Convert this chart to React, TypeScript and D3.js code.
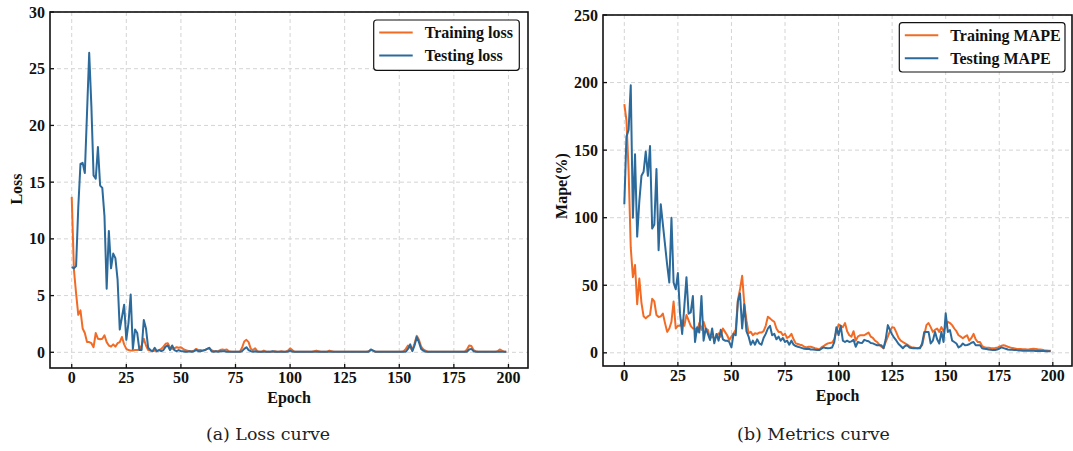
import React from "react";
import * as d3 from "d3";

// ---------- DATA ----------
const epochTicks = [0, 25, 50, 75, 100, 125, 150, 175, 200];
const lossTicks = [0, 5, 10, 15, 20, 25, 30];
const mapeTicks = [0, 50, 100, 150, 200, 250];

const trainLoss = [
  13.7, 7.3, 5.2, 3.3, 3.7, 2.1, 1.7, 0.9, 0.9, 0.8,
  0.45, 1.7, 1.2, 1.15, 1.2, 1.5, 0.9, 0.6, 0.5, 0.7,
  0.5, 0.8, 0.9, 1.35, 0.7, 0.3, 0.2, 0.15, 0.15, 0.2,
  0.2, 0.25, 0.6, 1.2, 0.6, 0.2, 0.15, 0.1, 0.15, 0.1,
  0.2, 0.3, 0.5, 0.75, 0.8, 0.4, 0.3, 0.35, 0.45, 0.4,
  0.45, 0.3, 0.2, 0.15, 0.1, 0.1, 0.15, 0.3, 0.2, 0.2,
  0.15, 0.2, 0.3, 0.35, 0.2, 0.1, 0.1, 0.1, 0.2, 0.25,
  0.2, 0.25, 0.1, 0.05, 0.05, 0.05, 0.05, 0.05, 0.4, 0.95,
  1.1, 0.9, 0.3, 0.2, 0.35, 0.1, 0.05, 0.05, 0.15, 0.05,
  0.05, 0.05, 0.05, 0.1, 0.05, 0.05, 0.1, 0.05, 0.05, 0.15,
  0.35, 0.2, 0.05, 0.05, 0.05, 0.05, 0.05, 0.05, 0.05, 0.05,
  0.05, 0.1, 0.15, 0.1, 0.05, 0.05, 0.05, 0.05, 0.15, 0.1,
  0.05, 0.05, 0.05, 0.05, 0.05, 0.05, 0.05, 0.05, 0.05, 0.05,
  0.05, 0.05, 0.05, 0.05, 0.05, 0.05, 0.1, 0.2, 0.15, 0.05,
  0.05, 0.05, 0.05, 0.05, 0.05, 0.05, 0.05, 0.05, 0.05, 0.05,
  0.05, 0.05, 0.1, 0.3, 0.6, 0.4, 0.2, 0.8, 1.45, 1.1,
  0.5, 0.25, 0.15, 0.05, 0.05, 0.05, 0.05, 0.05, 0.05, 0.05,
  0.05, 0.05, 0.05, 0.05, 0.05, 0.05, 0.05, 0.05, 0.05, 0.05,
  0.05, 0.25, 0.6, 0.55, 0.2, 0.1, 0.05, 0.05, 0.05, 0.05,
  0.05, 0.05, 0.05, 0.05, 0.05, 0.1, 0.25, 0.15, 0.05, 0.05,
];

const testLoss = [
  7.5, 7.4, 7.6, 12.8, 16.6, 16.7, 15.8, 21.1, 26.4, 21.7,
  15.6, 15.3, 18.1, 14.7, 14.5, 12.0, 5.6, 10.7, 7.4, 8.7,
  8.3, 6.4, 2.0, 3.1, 4.2, 1.1, 2.6, 5.1, 0.3, 2.0,
  1.7, 0.2, 0.2, 2.85, 2.1, 0.4, 0.2, 0.1, 0.4, 0.1,
  0.2, 0.1, 0.2, 0.5, 0.6, 0.2, 0.6, 0.2, 0.1, 0.2,
  0.1, 0.1, 0.05, 0.05, 0.1, 0.05, 0.1, 0.2, 0.1, 0.1,
  0.15, 0.2, 0.3, 0.4, 0.1, 0.05, 0.1, 0.05, 0.1, 0.1,
  0.1, 0.05, 0.05, 0.05, 0.05, 0.05, 0.05, 0.05, 0.1, 0.3,
  0.45, 0.2, 0.1, 0.05, 0.1, 0.05, 0.05, 0.05, 0.05, 0.05,
  0.05, 0.05, 0.1, 0.05, 0.05, 0.05, 0.05, 0.05, 0.05, 0.05,
  0.15, 0.05, 0.05, 0.05, 0.05, 0.05, 0.05, 0.05, 0.05, 0.05,
  0.05, 0.05, 0.05, 0.05, 0.05, 0.05, 0.05, 0.05, 0.05, 0.05,
  0.05, 0.05, 0.05, 0.05, 0.05, 0.05, 0.05, 0.05, 0.05, 0.05,
  0.05, 0.05, 0.05, 0.05, 0.05, 0.05, 0.05, 0.25, 0.15, 0.05,
  0.05, 0.05, 0.05, 0.05, 0.05, 0.05, 0.05, 0.05, 0.05, 0.05,
  0.05, 0.05, 0.05, 0.05, 0.3, 0.7, 0.1, 0.6, 1.35, 0.9,
  0.3, 0.15, 0.05, 0.05, 0.05, 0.05, 0.05, 0.05, 0.05, 0.05,
  0.05, 0.05, 0.05, 0.05, 0.05, 0.05, 0.05, 0.05, 0.05, 0.05,
  0.05, 0.05, 0.25, 0.3, 0.1, 0.05, 0.05, 0.05, 0.05, 0.05,
  0.05, 0.05, 0.05, 0.05, 0.05, 0.05, 0.05, 0.05, 0.05, 0.05,
];

const trainMape = [
  184, 172, 135, 78, 56, 65, 36, 55, 37, 27,
  25.5, 27, 28, 40, 38, 28, 26.5, 27, 29, 22,
  15.5, 18, 23, 38, 18, 20, 20, 24, 20, 28,
  24, 20, 18, 18, 15.5, 22, 17, 23, 18, 17,
  10.6, 12, 10.6, 12, 14.5, 12, 18, 15.5, 13, 9.5,
  12, 14.5, 17, 39, 47, 57, 36, 24, 14.5, 15.5,
  13, 14.5, 14, 15, 15, 16, 20, 26.7, 25.5, 24,
  23, 18, 15.5, 15.5, 13, 14, 11, 12, 14, 10,
  7, 6.5, 6, 5.6, 4.5, 4, 4.5, 4.5, 4, 3.4,
  3, 2.5, 4, 5, 6, 7, 7.3, 7.6, 10, 16,
  21, 20, 19, 22, 16, 13, 12, 16, 9, 12,
  13, 13, 13, 14, 15, 12, 11, 9, 8, 6,
  4.5, 3.4, 8, 12, 16, 19, 18.5, 15, 11, 9,
  8, 7, 6, 5, 4.2, 4, 3.6, 3.4, 4, 5.6,
  13, 20.5, 22, 19, 15.5, 17, 18, 15.5, 19, 16,
  19, 23, 22, 20.5, 18, 16, 13, 12, 10.8, 12,
  13, 9, 11, 14, 10, 8, 8, 5, 4.2, 3.8,
  3.7, 3.5, 3.4, 3.5, 3.7, 4.5, 5.2, 5.6, 5.2, 4.5,
  4, 3.5, 3.3, 3, 2.8, 2.8, 2.7, 2.6, 2.5, 2.6,
  2.8, 3, 2.8, 2.6, 2.5, 2.3, 2, 1.8, 1.6, 1.5,
];

const testMape = [
  110, 160, 165, 198, 100, 147, 86, 112, 131, 134,
  149, 131, 153, 92, 95, 136, 76, 110, 95, 80,
  65, 52, 100, 52, 47, 59, 29, 14, 34, 56,
  29, 30, 42, 8, 19, 15, 42, 9, 18, 14,
  9.5, 18, 7, 14, 9, 17, 10, 9, 9, 8,
  4, 14, 13, 38, 44, 18, 36, 16, 12, 6,
  9, 6, 10, 7, 6, 11, 14, 18, 20, 13,
  14, 10, 12, 9, 11, 8, 9, 6, 9, 6,
  5, 4.5, 4, 3.5, 3, 2.8, 3, 2.5, 2.5, 2.2,
  2, 2, 3, 4, 3.5, 3.4, 3.6, 4, 8, 19,
  13, 20, 9, 8, 9, 8, 8.5, 9.6, 4.5, 8,
  7.5, 7.3, 9.6, 9, 8.6, 7.3, 7, 6.3, 5.6, 5.6,
  5.6, 3.4, 10, 20.5, 16.8, 13.5, 11, 9, 6.5, 5,
  3.4, 5, 5.6, 4, 3.6, 3.4, 3.4, 3.4, 3.4, 6.9,
  15.5, 15.5, 15.5, 6.9, 9, 15.5, 10, 6.9, 15.5, 8,
  29.2, 15.5, 16.8, 9, 8, 6.9, 4, 5, 6.9, 5.6,
  5.8, 6.3, 7.5, 8, 5.6, 5.6, 5.6, 3.4, 3, 2.8,
  2.5, 2.3, 2, 2, 2.5, 3, 4, 3.5, 3, 2.5,
  2.3, 2.2, 2, 2, 1.8, 1.7, 1.6, 1.5, 1.5, 1.5,
  1.6, 1.5, 1.4, 1.5, 1.4, 1.3, 1.3, 1.2, 1.2, 1.2,
];

// ---------- STYLE ----------
const ORANGE = "#f26b25";
const BLUE = "#2c6a9b";
const SERIF = "'Liberation Serif', 'Times New Roman', serif";
const CAPTION_FONT = "'DejaVu Serif', serif";
const FS = 16;

type PanelProps = {
  left: number; right: number; top: number; bottom: number;
  xDomain: [number, number]; yDomain: [number, number];
  yTicks: number[]; train: number[]; test: number[];
  yLabel: string; yLabelY: number; yLabelX: number;
  legend: [string, string];
  legendBox: { x: number; y: number; w: number; h: number };
  caption: string; captionX: number;
};

function Panel(p: PanelProps) {
  const x = d3.scaleLinear().domain(p.xDomain).range([p.left, p.right]);
  const y = d3.scaleLinear().domain(p.yDomain).range([p.bottom, p.top]);
  const line = d3
    .line<number>()
    .x((_, i) => x(i))
    .y((d) => y(d));
  const lb = p.legendBox;
  const cx = (p.left + p.right) / 2;
  return (
    <g>
      {/* grid */}
      {epochTicks.map((t) => (
        <line key={"gx" + t} x1={x(t)} x2={x(t)} y1={p.top} y2={p.bottom}
          stroke="#d4d4d4" strokeWidth={1} strokeDasharray="4,3" />
      ))}
      {p.yTicks.map((t) => (
        <line key={"gy" + t} x1={p.left} x2={p.right} y1={y(t)} y2={y(t)}
          stroke="#d4d4d4" strokeWidth={1} strokeDasharray="4,3" />
      ))}
      {/* lines */}
      <path d={line(p.train) || ""} fill="none" stroke={ORANGE} strokeWidth={2} strokeLinejoin="round" />
      <path d={line(p.test) || ""} fill="none" stroke={BLUE} strokeWidth={2} strokeLinejoin="round" />
      {/* frame */}
      <rect x={p.left} y={p.top} width={p.right - p.left} height={p.bottom - p.top}
        fill="none" stroke="#111" strokeWidth={1.6} />
      {/* ticks */}
      {epochTicks.map((t) => (
        <g key={"tx" + t}>
          <line x1={x(t)} x2={x(t)} y1={p.bottom} y2={p.bottom - 4} stroke="#111" strokeWidth={1.3} />
          <text x={x(t)} y={p.bottom + 15} textAnchor="middle" fontFamily={SERIF}
            fontWeight="bold" fontSize={FS} fill="#111">{t}</text>
        </g>
      ))}
      {p.yTicks.map((t) => (
        <g key={"ty" + t}>
          <line x1={p.left} x2={p.left + 4} y1={y(t)} y2={y(t)} stroke="#111" strokeWidth={1.3} />
          <text x={p.left - 5} y={y(t) + 5.5} textAnchor="end" fontFamily={SERIF}
            fontWeight="bold" fontSize={FS} fill="#111">{t}</text>
        </g>
      ))}
      {/* axis labels */}
      <text x={cx} y={p.bottom + 35} textAnchor="middle" fontFamily={SERIF}
        fontWeight="bold" fontSize={FS} fill="#111">Epoch</text>
      <text transform={`translate(${p.yLabelX},${p.yLabelY}) rotate(-90)`} textAnchor="middle"
        dominantBaseline="central" fontFamily={SERIF} fontWeight="bold" fontSize={FS} fill="#111">
        {p.yLabel}
      </text>
      {/* legend */}
      <rect x={lb.x} y={lb.y} width={lb.w} height={lb.h} rx={3} ry={3}
        fill="#fff" stroke="#111" strokeWidth={1.2} />
      {[0, 1].map((i) => {
        const yy = lb.y + 12.5 + i * 23;
        return (
          <g key={"lg" + i}>
            <line x1={lb.x + 5.5} x2={lb.x + 39} y1={yy} y2={yy}
              stroke={i === 0 ? ORANGE : BLUE} strokeWidth={2} />
            <text x={lb.x + 51} y={yy + 5.5} fontFamily={SERIF} fontWeight="bold"
              fontSize={FS} fill="#111">{p.legend[i]}</text>
          </g>
        );
      })}
      {/* caption */}
      <text x={p.captionX} y={440} textAnchor="middle" fontFamily={CAPTION_FONT}
        fontSize={17.4} fill="#222">{p.caption}</text>
    </g>
  );
}

export default function App() {
  return (
    <svg width={1073} height={451} style={{ position: "absolute", left: 0, top: 0, background: "#fff" }}>
      <rect x={0} y={0} width={1073} height={451} fill="#fff" />
      <Panel
        left={50} right={528} top={12} bottom={368}
        xDomain={[-9.95, 208.95]} yDomain={[-1.384, 30]}
        yTicks={lossTicks} train={trainLoss} test={testLoss}
        yLabel="Loss" yLabelX={16} yLabelY={189}
        legend={["Training loss", "Testing loss"]}
        legendBox={{ x: 373.7, y: 20, w: 145.6, h: 50.3 }}
        caption="(a) Loss curve" captionX={268}
      />
      <Panel
        left={603} right={1072} top={15} bottom={366}
        xDomain={[-9.95, 208.95]} yDomain={[-9.75, 250]}
        yTicks={mapeTicks} train={trainMape} test={testMape}
        yLabel="Mape(%)" yLabelX={561} yLabelY={186}
        legend={["Training MAPE", "Testing MAPE"]}
        legendBox={{ x: 899.3, y: 22.7, w: 165.7, h: 49.3 }}
        caption="(b) Metrics curve" captionX={813.5}
      />
    </svg>
  );
}
